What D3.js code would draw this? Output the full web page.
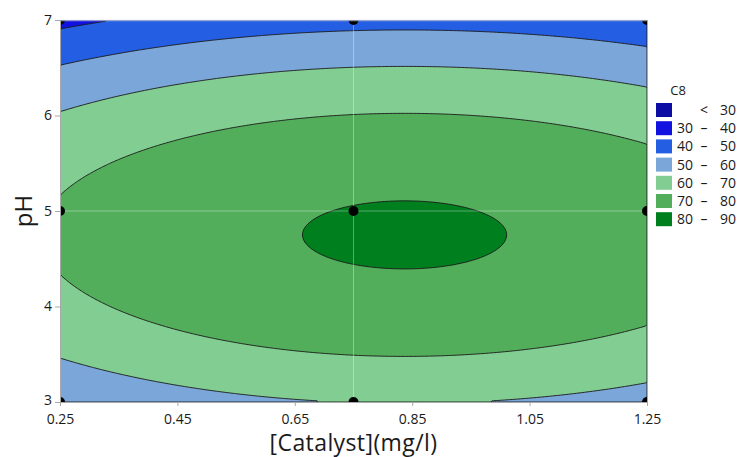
<!DOCTYPE html>
<html>
<head>
<meta charset="utf-8">
<script src="https://cdn.jsdelivr.net/npm/d3@7"></script>
<style>
  body { margin: 0; background: #fff; }
  text { font-family: "Open Sans", "Noto Sans", sans-serif; fill: #1a1a1a; }
</style>
</head>
<body>
<div id="chart"></div>
<script>
// fitted response surface for C8, coded units u=(cat-0.75)/0.5, v=(pH-5)/2
var terms  = ["const", "u", "v", "u*u", "v*v", "u*v"];
var coefs  = [80.22, 2.45, -6.70, -7.04, -26.8, 0.0];

var levels      = [30, 40, 50, 60, 70, 80];
var bandLabels  = [["<", "30"], ["30", "40"], ["40", "50"], ["50", "60"], ["60", "70"], ["70", "80"], ["80", "90"]];
var bandColors  = ["#0d0da6", "#1212e0", "#245ee2", "#7ba6d9", "#82cd92", "#52ae5a", "#007f1f"];

var designX = [0.25, 0.75, 1.25];
var designY = [3, 5, 7];

var xTicks = [0.25, 0.45, 0.65, 0.85, 1.05, 1.25];
var yTicks = [3, 4, 5, 6, 7];

render_chart();

function render_chart() {
  var width = 739, height = 457;
  var pl = 60, pr = 647, pt = 20, pb = 402;

  var x = d3.scaleLinear().domain([0.25, 1.25]).range([pl, pr]);
  var y = d3.scaleLinear().domain([3, 7]).range([pb, pt]);

  function surface(cat, ph) {
    var u = (cat - 0.75) / 0.5, v = (ph - 5) / 2;
    var row = [1, u, v, u * u, v * v, u * v];
    return d3.sum(row, function(t, i) { return t * coefs[i]; });
  }

  // sample the surface on a grid (cell centres)
  var n = 220, m = 160;
  var gx = d3.scaleLinear().domain([0, n]).range(x.domain());
  var gy = d3.scaleLinear().domain([0, m]).range([7, 3]);
  var values = new Array(n * m);
  for (var j = 0; j < m; j++) {
    for (var i = 0; i < n; i++) {
      values[j * n + i] = surface(gx(i + 0.5), gy(j + 0.5));
    }
  }

  var contours = d3.contours().size([n, m]).thresholds(levels)(values);

  var toPx = d3.geoTransform({
    point: function(px, py) { this.stream.point(x(gx(px)), y(gy(py))); }
  });
  var path = d3.geoPath(toPx);

  var svg = d3.select("#chart").append("svg")
    .attr("width", width)
    .attr("height", height);

  svg.append("clipPath").attr("id", "plotclip")
    .append("rect")
    .attr("x", pl).attr("y", pt)
    .attr("width", pr - pl).attr("height", pb - pt);

  var plot = svg.append("g").attr("clip-path", "url(#plotclip)");

  // lowest band as background
  plot.append("rect")
    .attr("x", pl).attr("y", pt)
    .attr("width", pr - pl).attr("height", pb - pt)
    .attr("fill", bandColors[0]);

  plot.selectAll("path.band")
    .data(contours)
    .enter().append("path")
    .attr("class", "band")
    .attr("d", path)
    .attr("fill", function(d, i) { return bandColors[i + 1]; })
    .attr("stroke", "#1a1a1a")
    .attr("stroke-width", 0.9)
    .attr("stroke-linejoin", "round");

  // reference lines through the centre point
  plot.append("line")
    .attr("x1", x(0.75)).attr("x2", x(0.75))
    .attr("y1", pt).attr("y2", pb)
    .attr("stroke", "#fff").attr("stroke-opacity", 0.35);
  plot.append("line")
    .attr("x1", pl).attr("x2", pr)
    .attr("y1", y(5)).attr("y2", y(5))
    .attr("stroke", "#fff").attr("stroke-opacity", 0.35);

  // design points
  var pts = [];
  designX.forEach(function(a) { designY.forEach(function(b) { pts.push([a, b]); }); });
  plot.selectAll("circle")
    .data(pts)
    .enter().append("circle")
    .attr("cx", function(d) { return x(d[0]); })
    .attr("cy", function(d) { return y(d[1]); })
    .attr("r", 5)
    .attr("fill", "#000");

  // frame
  svg.append("line").attr("x1", pl).attr("x2", pr).attr("y1", pt + 0.5).attr("y2", pt + 0.5)
    .attr("stroke", "#c9d0f0").attr("stroke-opacity", 0.7).attr("stroke-width", 1.5);
  svg.append("line").attr("x1", pr + 0.5).attr("x2", pr + 0.5).attr("y1", pt).attr("y2", pb)
    .attr("stroke", "#a8a8a8");

  // axes
  var xAxis = svg.append("g")
    .attr("transform", "translate(0," + pb + ")")
    .call(d3.axisBottom(x).tickValues(xTicks).tickSize(4).tickPadding(8).tickFormat(d3.format(".2f")));
  var yAxis = svg.append("g")
    .attr("transform", "translate(" + pl + ",0)")
    .call(d3.axisLeft(y).tickValues(yTicks).tickSize(5).tickPadding(3).tickFormat(d3.format("d")));

  [xAxis, yAxis].forEach(function(a) {
    a.select(".domain").attr("stroke", "#a8a8a8");
    a.selectAll(".tick line").attr("stroke", "#a8a8a8");
    a.selectAll(".tick text").attr("font-size", 14).attr("fill", "#1a1a1a")
      .style("font-family", "'Open Sans', sans-serif");
  });
  // lift the lowest pH label a touch so it clears the 0.25 label
  yAxis.selectAll(".tick text").filter(function(d) { return d == 3; }).attr("dy", "0.2em");

  svg.append("text")
    .attr("x", x(0.75)).attr("y", 451)
    .attr("text-anchor", "middle")
    .attr("font-size", 23)
    .attr("letter-spacing", 0.4)
    .text("[Catalyst](mg/l)");

  svg.append("text")
    .attr("transform", "translate(32," + y(5) + ") rotate(-90)")
    .attr("text-anchor", "middle")
    .attr("font-size", 24)
    .text("pH");

  // legend
  var lg = svg.append("g");
  lg.append("text").attr("x", 678).attr("y", 95).attr("text-anchor", "middle")
    .attr("font-size", 13).text("C8");

  var rows = lg.selectAll("g.row")
    .data(bandLabels)
    .enter().append("g")
    .attr("class", "row")
    .attr("transform", function(d, i) { return "translate(656," + (103 + i * 18.2) + ")"; });

  rows.append("rect")
    .attr("width", 16).attr("height", 14)
    .attr("fill", function(d, i) { return bandColors[i]; });

  rows.append("text")
    .attr("x", 37).attr("y", 12).attr("text-anchor", "end")
    .attr("font-size", 14)
    .text(function(d) { return d[0] == "<" ? "" : d[0]; });
  rows.append("text")
    .attr("x", 48).attr("y", 12).attr("text-anchor", "middle")
    .attr("font-size", 14)
    .text(function(d) { return d[0] == "<" ? "<" : "\u2013"; });
  rows.append("text")
    .attr("x", 80).attr("y", 12).attr("text-anchor", "end")
    .attr("font-size", 14)
    .text(function(d) { return d[1]; });
}
</script>
</body>
</html>
